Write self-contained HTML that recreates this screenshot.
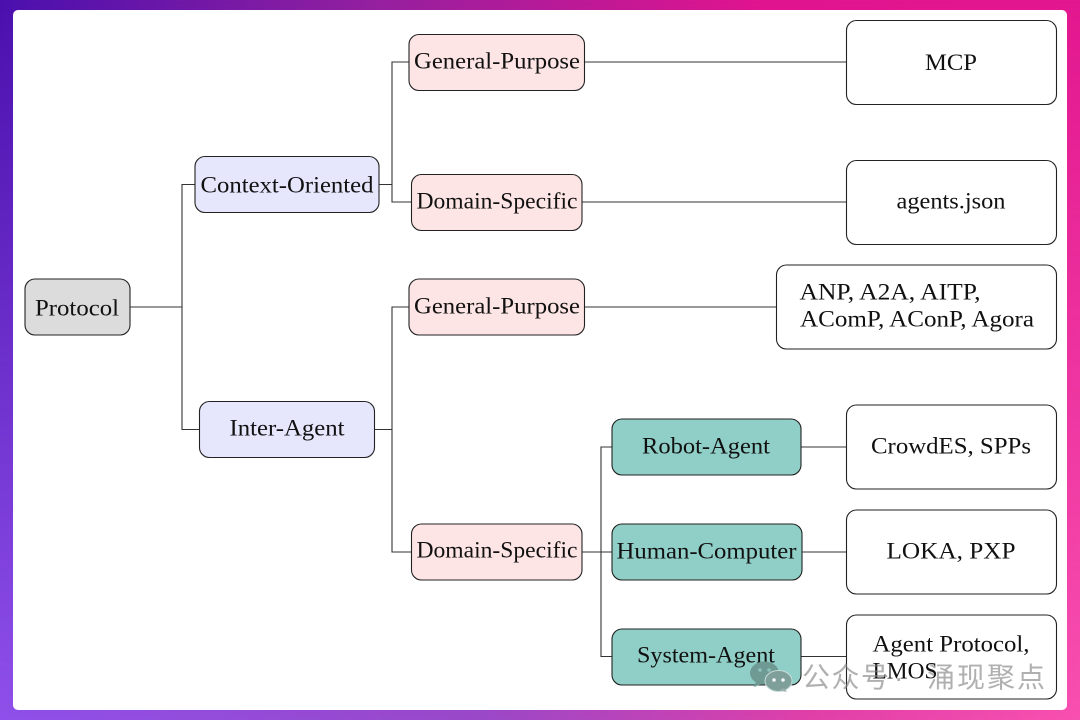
<!DOCTYPE html>
<html><head><meta charset="utf-8"><style>
html,body{margin:0;padding:0;width:1080px;height:720px;overflow:hidden}
#bg,#bg2{position:absolute;left:0;top:0;width:1080px;height:720px}
#bg{background:linear-gradient(to right,#4a10ae 0%,#95209f 35%,#e0148f 70%,#e3178f 100%)}
#bg2{background:linear-gradient(to right,#8f50ea 0%,#9a48c8 45%,#e040a8 75%,#f850b0 100%);-webkit-mask-image:linear-gradient(to bottom,transparent 0%,#000 100%);mask-image:linear-gradient(to bottom,transparent 0%,#000 100%)}
#card{position:absolute;left:13px;top:10px;width:1054px;height:700px;background:#fff;border-radius:5px}
svg{position:absolute;left:0;top:0}
text{font-family:"Liberation Serif","DejaVu Serif",serif;font-size:23px;fill:#111;text-anchor:middle}
.n{stroke:#222;stroke-width:1.1}
.l{fill:none;stroke:#333;stroke-width:1.1}
.w{font-family:"Liberation Sans","Noto Sans CJK SC",sans-serif;font-size:28px;fill:#808080;fill-opacity:.62;text-anchor:start}
</style></head><body>
<div id="bg"></div><div id="bg2"></div><div id="card"></div>
<svg width="1080" height="720" viewBox="0 0 1080 720">
<g class="l">
<path d="M130 307H182M195 184.500H182V429.500H200"/>
<path d="M379 184.500H392M409 62H392V184.500M392 184.500V202H411"/>
<path d="M374 429.500H392M409 307H392V552H411"/>
<path d="M585 62H846M582 202H846M585 307H776"/>
<path d="M582 552H612M612 447H601V656.500H612"/>
<path d="M801 447H846M802 552H846M801 656.500H846"/>
</g>
<g class="n">
<rect x="25" y="279" width="105" height="56" rx="10" fill="#dcdcdc"/>
<rect x="195" y="156.500" width="184" height="56" rx="10" fill="#e6e6fd"/>
<rect x="199.500" y="401.500" width="175" height="56" rx="10" fill="#e6e6fd"/>
<rect x="409" y="34.500" width="175.500" height="56" rx="10" fill="#fee5e5"/>
<rect x="411.500" y="174.500" width="170.500" height="56" rx="10" fill="#fee5e5"/>
<rect x="409" y="279" width="175.500" height="56" rx="10" fill="#fee5e5"/>
<rect x="411.500" y="524" width="170.500" height="56" rx="10" fill="#fee5e5"/>
<rect x="612" y="419" width="189" height="56" rx="10" fill="#90cfc7"/>
<rect x="612" y="524" width="190" height="56" rx="10" fill="#90cfc7"/>
<rect x="612" y="629" width="189" height="56" rx="10" fill="#90cfc7"/>
<rect x="846.500" y="20.500" width="210" height="84" rx="10" fill="#fff"/>
<rect x="846.500" y="160.500" width="210" height="84" rx="10" fill="#fff"/>
<rect x="776.500" y="265" width="280" height="84" rx="10" fill="#fff"/>
<rect x="846.500" y="405" width="210" height="84" rx="10" fill="#fff"/>
<rect x="846.500" y="510" width="210" height="84" rx="10" fill="#fff"/>
<rect x="846.500" y="615" width="210" height="84" rx="10" fill="#fff"/>
</g>
<text x="77" y="315.500" textLength="84" lengthAdjust="spacingAndGlyphs">Protocol</text>
<text x="287" y="192.500" textLength="173" lengthAdjust="spacingAndGlyphs">Context-Oriented</text>
<text x="287" y="435.500" textLength="115" lengthAdjust="spacingAndGlyphs">Inter-Agent</text>
<text x="497" y="68.500" textLength="166" lengthAdjust="spacingAndGlyphs">General-Purpose</text>
<text x="497" y="208.500" textLength="161" lengthAdjust="spacingAndGlyphs">Domain-Specific</text>
<text x="497" y="313.500" textLength="166" lengthAdjust="spacingAndGlyphs">General-Purpose</text>
<text x="497" y="557.500" textLength="161" lengthAdjust="spacingAndGlyphs">Domain-Specific</text>
<text x="706" y="453.500" textLength="128" lengthAdjust="spacingAndGlyphs">Robot-Agent</text>
<text x="706.500" y="558.500" textLength="180" lengthAdjust="spacingAndGlyphs">Human-Computer</text>
<text x="706" y="662.500" textLength="138" lengthAdjust="spacingAndGlyphs">System-Agent</text>
<text x="951" y="70" textLength="52" lengthAdjust="spacingAndGlyphs">MCP</text>
<text x="951" y="208.500" textLength="109" lengthAdjust="spacingAndGlyphs">agents.json</text>
<text x="890" y="299.500" textLength="181" lengthAdjust="spacingAndGlyphs">ANP, A2A, AITP,</text>
<text x="917" y="326.500" textLength="234" lengthAdjust="spacingAndGlyphs">AComP, AConP, Agora</text>
<text x="951" y="453.500" textLength="160" lengthAdjust="spacingAndGlyphs">CrowdES, SPPs</text>
<text x="951" y="558.500" textLength="129" lengthAdjust="spacingAndGlyphs">LOKA, PXP</text>
<text x="951" y="651.500" textLength="157" lengthAdjust="spacingAndGlyphs">Agent Protocol,</text>
<text x="905" y="678.500" textLength="65" lengthAdjust="spacingAndGlyphs">LMOS</text>
<ellipse cx="764.500" cy="673" rx="14.500" ry="11.500" fill="#6f9a94"/>
<path d="M756 681l-2 6 8-3z" fill="#6f9a94"/>
<circle cx="760" cy="670" r="1.800" fill="#8fc2bb"/>
<circle cx="769" cy="670" r="1.800" fill="#8fc2bb"/>
<ellipse cx="778.500" cy="681" rx="13.500" ry="10.500" fill="#7f9f9b" stroke="#c8dcd9" stroke-width="1"/>
<path d="M784 688l3 4-8-2z" fill="#9aaeab"/>
<circle cx="774" cy="680" r="1.800" fill="#f2f6f5"/>
<circle cx="783" cy="680" r="1.800" fill="#f2f6f5"/>
<text class="w" x="802" y="687" textLength="87">公众号</text>
<text class="w" x="894" y="687" textLength="10">·</text>
<text class="w" x="927" y="687" textLength="118">涌现聚点</text>
</svg>
</body></html>
